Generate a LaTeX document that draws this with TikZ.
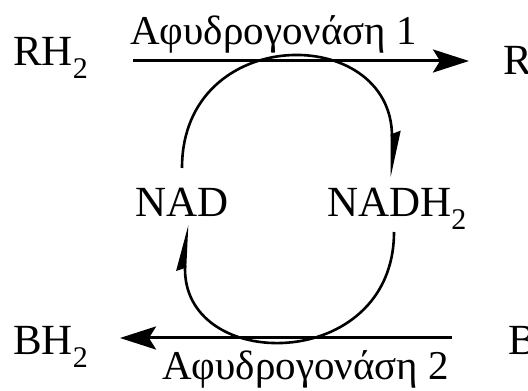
\documentclass[tikz,border=0pt]{standalone}
\usepackage{fontspec}
\setmainfont{Liberation Serif}
\usetikzlibrary{arrows.meta}
\newcommand{\lowtwo}{\raisebox{-0.28em}{\fontsize{30}{30}\selectfont 2}}

\begin{document}
\begin{tikzpicture}[x=1pt, y=1pt,
    chem/.style={font=\fontsize{43}{48}\selectfont, inner sep=0pt, anchor=base west},
    enzyme/.style={font=\fontsize{41}{46}\selectfont, inner sep=0pt, anchor=base west},
    react/.style={line width=3pt, -{Stealth[length=36pt, width=23pt, inset=7pt]}},
    cycle/.style={line width=2.6pt, -{Stealth[length=40pt, width=17pt, inset=3pt, harpoon]}}]
\useasboundingbox (0,0) rectangle (528,391);

% Substrates and products
\node[chem] (rh) at (13,325) {RH\lowtwo};
\node[chem] (r) at (503,316) {R};
\node[chem] (bh) at (13,36) {BH\lowtwo};
\node[chem] (b) at (508,36) {B};

% Coenzyme
\node[chem] (nad) at (135,174) {NAD};
\node[chem] (nadh) at (327,174) {NADH\lowtwo};

% Enzyme labels
\node[enzyme] (enz1) at (130,346) {Αφυδρογονάση 1};
\node[enzyme] (enz2) at (162,11) {Αφυδρογονάση 2};

% Reaction arrows
\coordinate (top1) at (133,330);
\coordinate (top2) at (469,330);
\coordinate (bot1) at (452,53);
\coordinate (bot2) at (120,53);
\draw[react] (top1) -- (top2);
\draw[react] (bot1) -- (bot2);

% NAD / NADH2 cycle
\coordinate (nadup) at (182,223);
\coordinate (nadhup) at (392,214);
\coordinate (nadhdown) at (394,159);
\coordinate (naddown) at (187,166);
\draw[cycle] (nadup) .. controls (182,368) and (392,368) .. (nadhup);
\draw[cycle] (nadhdown) .. controls (394,17) and (180,17) .. (naddown);

\end{tikzpicture}
\end{document}
